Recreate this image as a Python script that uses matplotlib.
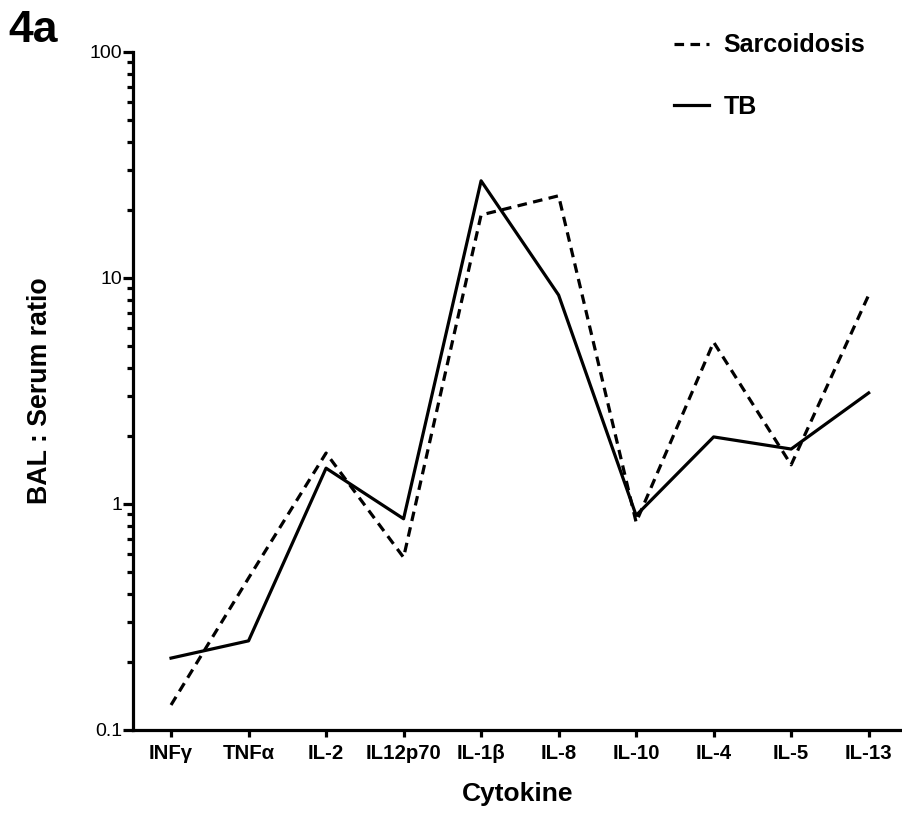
import numpy as np
import matplotlib
matplotlib.use("Agg")
import matplotlib.pyplot as plt
from matplotlib.ticker import LogLocator, FuncFormatter, NullFormatter

plt.rcParams['font.family'] = ['Liberation Sans', 'DejaVu Sans']

# --- data ---
cytokines = ["INF\u03b3", "TNF\u03b1", "IL-2", "IL12p70", "IL-1\u03b2",
             "IL-8", "IL-10", "IL-4", "IL-5", "IL-13"]
sarcoidosis = [0.129, 0.47, 1.68, 0.58, 19.0, 23.1, 0.83, 5.2, 1.49, 8.4]
tb = [0.208, 0.248, 1.44, 0.86, 26.9, 8.4, 0.89, 1.98, 1.75, 3.1]

fig = plt.figure(figsize=(9.02, 8.14), dpi=100)
ax = fig.add_axes([0.1475, 0.1032, 0.8525, 0.833])

x = np.arange(len(cytokines))
ax.plot(x, sarcoidosis, color='black', lw=2.3, linestyle=(0, (3, 2)),
        label='Sarcoidosis')
ax.plot(x, tb, color='black', lw=2.3, label='TB')

ax.set_yscale('log')
ax.set_ylim(0.1, 100)
ax.set_xlim(-0.49, 9.43)
ax.yaxis.set_major_locator(LogLocator(base=10))
ax.yaxis.set_minor_locator(LogLocator(base=10, subs=np.arange(2, 10)))
ax.yaxis.set_major_formatter(FuncFormatter(lambda v, p: '%g' % v))
ax.yaxis.set_minor_formatter(NullFormatter())

ax.set_xticks(x)
ax.set_xticklabels(cytokines, fontsize=14.7, fontweight='bold')
for lab in ax.get_yticklabels():
    lab.set_fontsize(14)

for side in ['top', 'right']:
    ax.spines[side].set_visible(False)
for side in ['left', 'bottom']:
    ax.spines[side].set_linewidth(2.3)

ax.tick_params(axis='y', which='major', length=7, width=2.3, direction='out', pad=1)
ax.tick_params(axis='y', which='minor', length=4.5, width=2.3, direction='out')
ax.tick_params(axis='x', which='major', length=5, width=2.3, direction='out', pad=5)

ax.set_xlabel('Cytokine', fontsize=19, fontweight='bold', labelpad=14)
ax.set_ylabel('BAL : Serum ratio', fontsize=19.3, fontweight='bold', labelpad=26)

fig.text(0.009, 0.988, '4a', fontsize=32, fontweight='bold', va='top', ha='left')

ax.legend(loc='upper left', bbox_to_anchor=(0.747, 0.959), bbox_transform=fig.transFigure,
          frameon=False, prop={'weight': 'bold', 'size': 18}, borderpad=0,
          borderaxespad=0, handlelength=1.4, handletextpad=0.6, labelspacing=1.5)

fig.savefig('out.png', dpi=100)
